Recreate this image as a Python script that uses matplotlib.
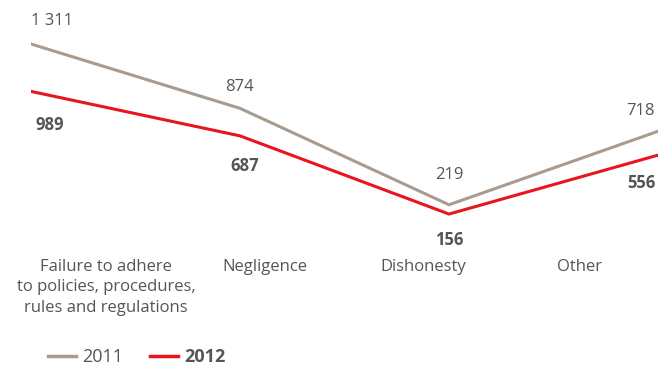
import matplotlib
matplotlib.use("Agg")
import matplotlib.pyplot as plt
from matplotlib.lines import Line2D

categories = ["Failure to adhere\nto policies, procedures,\nrules and regulations",
              "Negligence", "Dishonesty", "Other"]
values_2011 = [1311, 874, 219, 718]
values_2012 = [989, 687, 156, 556]
labels_2011 = ["1 311", "874", "219", "718"]
labels_2012 = ["989", "687", "156", "556"]
series_names = ["2011", "2012"]

c2011 = "#a89b8f"
c2012 = "#e8161c"
tcol = "#555555"
plt.rcParams['font.family'] = ['Open Sans', 'DejaVu Sans']

fig = plt.figure(figsize=(6.72, 3.68), dpi=100)
ax = fig.add_axes([31/672, 1-237/368, 627/672, 217/368])
x = list(range(len(categories)))
ax.plot(x, values_2011, color=c2011, lw=2.2, solid_joinstyle='miter')
ax.plot(x, values_2012, color=c2012, lw=2.2, solid_joinstyle='miter')
ax.set_xlim(0, 3)
ax.set_ylim(0, 1474)
ax.axis('off')

# 2011 labels (above)
offs_2011 = [(0, 23, 'left'), (0, 21, 'center'), (0, 30, 'center'), (-3, 20, 'right')]
for xi, v, lab, (dx, dy, ha) in zip(x, values_2011, labels_2011, offs_2011):
    ax.annotate(lab, (xi, v), xytext=(dx, dy), textcoords='offset pixels',
                ha=ha, va='center', fontsize=12, color=tcol, annotation_clip=False)
# 2012 labels (below)
offs_2012 = [(4, -34, 'left'), (5, -30, 'center'), (0, -26, 'center'), (-3, -28, 'right')]
for xi, v, lab, (dx, dy, ha) in zip(x, values_2012, labels_2012, offs_2012):
    ax.annotate(lab, (xi, v), xytext=(dx, dy), textcoords='offset pixels',
                ha=ha, va='center', fontsize=12, color=tcol, fontweight='bold',
                annotation_clip=False)

# category labels
cat_x = [106, 265, 423, 579]
for cx, cat in zip(cat_x, categories):
    fig.text(cx/672, 1-259/368, cat, ha='center', va='top', fontsize=12,
             color=tcol, linespacing=1.36)

handles = [Line2D([], [], color=c2011, lw=2.5), Line2D([], [], color=c2012, lw=2.5)]
leg = fig.legend(handles, series_names, loc='center left',
                 bbox_to_anchor=(48/672, 1-357/368), ncol=2, frameon=False,
                 fontsize=13, handlelength=1.55, handletextpad=0.35, columnspacing=1.5,
                 borderaxespad=0, borderpad=0)
for t in leg.get_texts():
    t.set_color(tcol)
leg.get_texts()[1].set_fontweight('bold')

fig.savefig("out.png", dpi=100)
